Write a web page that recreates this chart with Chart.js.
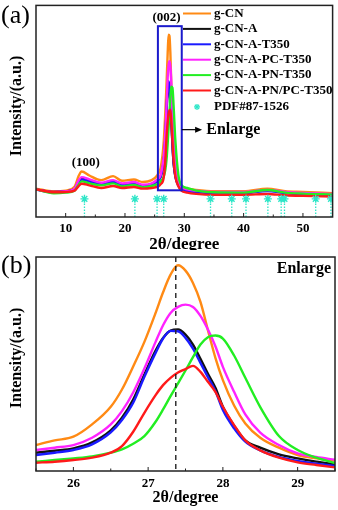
<!DOCTYPE html>
<html>
<head>
<meta charset="utf-8">
<script src="https://cdn.jsdelivr.net/npm/chart.js@4.4.1/dist/chart.umd.min.js"></script>
<style>
  html, body { margin: 0; padding: 0; background: #fff; }
  #wrap { position: relative; width: 338px; height: 510px; }
  canvas { position: absolute; left: 0; }
  #chartA { top: 0; }
  #chartB { top: 250px; }
</style>
</head>
<body>
<div id="wrap">
  <canvas id="chartA" width="338" height="250"></canvas>
  <canvas id="chartB" width="338" height="260"></canvas>
</div>
<script>
const seriesNames = ["g-CN", "g-CN-A", "g-CN-A-T350", "g-CN-A-PC-T350", "g-CN-A-PN-T350", "g-CN-A-PN/PC-T350"];
const seriesColors = ["#ff8a14", "#111111", "#1a1aff", "#ff22ff", "#22ee22", "#ff1a1a"];
const drawOrder = [6, 5, 4, 3, 2, 1];
const SERIF = '"Liberation Serif", "Times New Roman", serif';

// (a) full pattern, 2theta in degrees
const thetaA = [5, 8, 10, 11.5, 12.2, 12.7, 14, 16, 18, 19.5, 21.5, 23, 24.5, 25.5,
  26, 26.5, 26.8, 27.0, 27.2, 27.35, 27.5, 27.65, 27.8, 28.0, 28.2, 28.5, 29, 29.5,
  30.5, 32, 35, 40, 44, 47, 50, 55];
const fullCN     = [86, 78, 80, 92, 125, 138, 126, 112, 124, 110, 114, 106, 112, 128,
  148, 221, 318, 401, 498, 553, 550, 498, 406, 285, 210, 146, 104, 90,
  86, 82, 78, 78, 86, 78, 76, 72];
const fullCNA    = [84, 76, 78, 85, 108, 116, 110, 101, 108, 99, 103, 95, 100, 112,
  122, 165, 238, 317, 385, 404, 392, 351, 299, 221, 163, 124, 99, 84,
  80, 77, 74, 74, 80, 74, 71, 68];
const fullCNAT   = [83, 75, 77, 84, 106, 114, 108, 99, 106, 97, 101, 94, 98, 110,
  122, 165, 237, 322, 394, 412, 395, 351, 300, 219, 165, 121, 95, 83,
  79, 76, 73, 73, 79, 73, 70, 67];
const fullCNAPC  = [84, 76, 78, 86, 112, 121, 114, 104, 112, 102, 106, 98, 102, 115,
  127, 178, 257, 336, 423, 461, 473, 457, 412, 320, 240, 158, 107, 91,
  84, 80, 76, 76, 82, 76, 73, 70];
const fullCNAPN  = [84, 72, 74, 80, 98, 108, 102, 96, 102, 93, 97, 90, 94, 100,
  108, 121, 143, 173, 224, 271, 316, 363, 395, 392, 335, 230, 128, 97,
  88, 80, 75, 74, 82, 74, 71, 68];
const fullCNAPNPC = [84, 75, 76, 80, 94, 101, 96, 88, 94, 88, 91, 86, 88, 92,
  99, 117, 169, 241, 287, 312, 324, 325, 294, 231, 171, 123, 93, 80,
  74, 70, 67, 67, 70, 66, 64, 62];

// PDF#87-1526 reference peaks
const refTheta = [13.17, 21.67, 25.41, 26.53, 34.42, 38.0, 40.4, 44.09, 46.33, 46.89, 52.15, 54.72];
const refLevel = 55;

const ticksA = [10, 20, 30, 40, 50];
const minorA = [15, 25, 35, 45];

// (b) enlarged (002) region
const thetaB = [25.5, 25.75, 26.0, 26.25, 26.5, 26.65, 26.8, 26.95, 27.1, 27.2, 27.3, 27.4,
  27.5, 27.6, 27.7, 27.8, 27.9, 28.0, 28.15, 28.3, 28.5, 28.75, 29.0, 29.25, 29.5];
const zoomCN      = [78, 92, 103, 140, 193, 245, 314, 388, 475, 537, 590, 618, 602, 565, 508, 423, 340, 273, 197, 143, 100, 70, 48, 38, 31];
const zoomCNA     = [55, 61, 68, 86, 122, 160, 215, 290, 362, 400, 422, 425, 410, 380, 337, 292, 250, 193, 136, 92, 70, 50, 38, 28, 20];
const zoomCNAT    = [48, 55, 63, 80, 116, 153, 205, 283, 355, 398, 421, 420, 400, 368, 325, 282, 240, 183, 128, 88, 62, 42, 30, 22, 15];
const zoomCNAPC   = [63, 70, 78, 100, 140, 180, 236, 308, 388, 438, 475, 493, 500, 493, 466, 425, 375, 313, 238, 170, 115, 78, 53, 42, 34];
const zoomCNAPN   = [28, 33, 38, 44, 55, 65, 82, 105, 148, 185, 225, 263, 302, 342, 380, 402, 407, 398, 347, 280, 192, 105, 63, 40, 24];
const zoomCNAPNPC = [25, 28, 33, 40, 55, 75, 118, 175, 228, 258, 280, 296, 306, 316, 298, 268, 238, 193, 138, 92, 62, 40, 26, 18, 11];

const ticksB = [26, 27, 28, 29];
const minorB = [25.5, 26.5, 27.5, 28.5, 29.5];
const peakLine = 27.37;

// enlarge box in (a)
const boxTheta = [25.55, 29.57];
const boxI = [81, 579];

function lineSets(xs, ys) {
  return ys.map((vals, i) => ({
    label: seriesNames[i],
    data: xs.map((t, k) => ({ x: t, y: vals[k] })),
    borderColor: seriesColors[i],
    borderWidth: 2.4,
    pointRadius: 0,
    tension: 0.35,
    cubicInterpolationMode: "monotone",
    order: drawOrder[i],
  }));
}

function xAxis(min, max, ticks, h, pad) {
  return {
    type: "linear",
    min: min,
    max: max,
    grid: { display: false, drawTicks: false },
    border: { display: false },
    ticks: {
      color: "#000",
      padding: pad,
      maxRotation: 0,
      font: { family: SERIF, size: 13, weight: "bold" },
    },
    afterBuildTicks: (s) => { s.ticks = ticks.map((v) => ({ value: v })); },
    afterFit: (s) => { s.height = h; },
  };
}

function frame(ctx, a, x, major, minor) {
  ctx.strokeStyle = "#222";
  ctx.lineWidth = 1.5;
  ctx.strokeRect(a.left, a.top, a.width, a.height);
  ctx.lineWidth = 1;
  major.forEach((v) => {
    const px = x.getPixelForValue(v);
    ctx.beginPath(); ctx.moveTo(px, a.bottom); ctx.lineTo(px, a.bottom - 4); ctx.stroke();
  });
  minor.forEach((v) => {
    const px = x.getPixelForValue(v);
    ctx.beginPath(); ctx.moveTo(px, a.bottom); ctx.lineTo(px, a.bottom - 2.5); ctx.stroke();
  });
}

function yTitle(ctx, cx, cy) {
  ctx.save();
  ctx.translate(cx, cy);
  ctx.rotate(-Math.PI / 2);
  ctx.font = "bold 16px " + SERIF;
  ctx.textAlign = "center";
  ctx.textBaseline = "middle";
  ctx.fillStyle = "#000";
  ctx.fillText("Intensity/(a.u.)", 0, 0);
  ctx.restore();
}

const decorA = {
  id: "decorA",
  beforeDatasetsDraw(chart) {
    const { ctx, scales: { x, y } } = chart;
    ctx.save();
    ctx.strokeStyle = "#2ee6c8";
    ctx.lineWidth = 1.3;
    ctx.setLineDash([1.5, 1.5]);
    refTheta.forEach((t) => {
      const px = x.getPixelForValue(t);
      ctx.beginPath();
      ctx.moveTo(px, y.getPixelForValue(0));
      ctx.lineTo(px, y.getPixelForValue(refLevel));
      ctx.stroke();
    });
    ctx.restore();
  },
  afterDraw(chart) {
    const { ctx, chartArea: a, scales: { x, y } } = chart;
    ctx.save();
    frame(ctx, a, x, ticksA, minorA);

    // enlarge box + arrow
    const bx0 = x.getPixelForValue(boxTheta[0]), bx1 = x.getPixelForValue(boxTheta[1]);
    const by0 = y.getPixelForValue(boxI[1]), by1 = y.getPixelForValue(boxI[0]);
    ctx.strokeStyle = "#1a1acc";
    ctx.lineWidth = 2;
    ctx.strokeRect(bx0, by0, bx1 - bx0, by1 - by0);
    const ay = y.getPixelForValue(265), ax1 = x.getPixelForValue(33.0);
    ctx.strokeStyle = "#000";
    ctx.lineWidth = 1.2;
    ctx.beginPath(); ctx.moveTo(bx1, ay); ctx.lineTo(ax1 - 5, ay); ctx.stroke();
    ctx.fillStyle = "#000";
    ctx.beginPath(); ctx.moveTo(ax1, ay); ctx.lineTo(ax1 - 7, ay - 3); ctx.lineTo(ax1 - 7, ay + 3); ctx.closePath(); ctx.fill();

    ctx.textBaseline = "middle";
    ctx.font = "bold 16px " + SERIF;
    ctx.textAlign = "left";
    ctx.fillText("Enlarge", x.getPixelForValue(33.7), ay);
    ctx.font = "bold 13px " + SERIF;
    ctx.textAlign = "center";
    ctx.fillText("(002)", x.getPixelForValue(27.0), y.getPixelForValue(605));
    ctx.fillText("(100)", x.getPixelForValue(13.4), y.getPixelForValue(165));

    // legend
    const lx0 = 183, lx1 = 211, tx = 214, ly0 = 13.5, step = 15.4;
    ctx.textAlign = "left";
    seriesNames.forEach((n, i) => {
      const ly = ly0 + i * step;
      ctx.strokeStyle = seriesColors[i];
      ctx.lineWidth = 2;
      ctx.beginPath(); ctx.moveTo(lx0, ly); ctx.lineTo(lx1, ly); ctx.stroke();
      ctx.fillStyle = "#000";
      ctx.fillText(n, tx, ly);
    });
    const sy = ly0 + 6 * step + 1;
    ctx.strokeStyle = "#2ee6c8";
    ctx.lineWidth = 1.3;
    for (let k = 0; k < 4; k++) {
      const ang = (k * Math.PI) / 4;
      ctx.beginPath();
      ctx.moveTo(197 - 3 * Math.cos(ang), sy - 3 * Math.sin(ang));
      ctx.lineTo(197 + 3 * Math.cos(ang), sy + 3 * Math.sin(ang));
      ctx.stroke();
    }
    ctx.fillStyle = "#000";
    ctx.fillText("PDF#87-1526", tx, sy);

    // titles
    ctx.font = "bold 17px " + SERIF;
    ctx.textAlign = "center";
    ctx.fillText("2θ/degree", (a.left + a.right) / 2, 245);
    yTitle(ctx, 17, 106);
    ctx.font = "26px " + SERIF;
    ctx.textAlign = "left";
    ctx.fillText("(a)", 1, 16);
    ctx.restore();
  },
};

const decorB = {
  id: "decorB",
  afterDraw(chart) {
    const { ctx, chartArea: a, scales: { x } } = chart;
    ctx.save();
    frame(ctx, a, x, ticksB, minorB);
    const px = x.getPixelForValue(peakLine);
    ctx.strokeStyle = "#222";
    ctx.lineWidth = 1.4;
    ctx.setLineDash([5, 4]);
    ctx.beginPath(); ctx.moveTo(px, a.top); ctx.lineTo(px, a.bottom); ctx.stroke();
    ctx.setLineDash([]);

    ctx.fillStyle = "#000";
    ctx.textBaseline = "middle";
    ctx.font = "bold 16px " + SERIF;
    ctx.textAlign = "right";
    ctx.fillText("Enlarge", a.right - 4, 19);
    ctx.font = "bold 16px " + SERIF;
    ctx.textAlign = "center";
    ctx.fillText("2θ/degree", (a.left + a.right) / 2, 248);
    yTitle(ctx, 17, 108);
    ctx.font = "26px " + SERIF;
    ctx.textAlign = "left";
    ctx.fillText("(b)", 1, 16);
    ctx.restore();
  },
};

const common = {
  responsive: false,
  animation: false,
  devicePixelRatio: 1,
  events: [],
  plugins: { legend: { display: false }, tooltip: { enabled: false } },
};

new Chart(document.getElementById("chartA"), {
  type: "line",
  plugins: [decorA],
  data: {
    datasets: lineSets(thetaA, [fullCN, fullCNA, fullCNAT, fullCNAPC, fullCNAPN, fullCNAPNPC]).concat([{
      type: "scatter",
      label: "PDF#87-1526",
      data: refTheta.map((t) => ({ x: t, y: refLevel })),
      pointStyle: "star",
      pointRadius: 4,
      borderColor: "#2ee6c8",
      backgroundColor: "#2ee6c8",
      borderWidth: 1.4,
      order: 0,
    }]),
  },
  options: {
    ...common,
    layout: { padding: { left: 36, right: 4, top: 3, bottom: 0 } },
    scales: {
      x: xAxis(5, 55, ticksA, 33, 4),
      y: { display: false, min: 0, max: 642 },
    },
  },
});

new Chart(document.getElementById("chartB"), {
  type: "line",
  plugins: [decorB],
  data: {
    datasets: lineSets(thetaB, [zoomCN, zoomCNA, zoomCNAT, zoomCNAPC, zoomCNAPN, zoomCNAPNPC]),
  },
  options: {
    ...common,
    layout: { padding: { left: 36, right: 3, top: 7, bottom: 0 } },
    scales: {
      x: xAxis(25.5, 29.5, ticksB, 39, 5),
      y: { display: false, min: 0, max: 643 },
    },
  },
});
</script>
</body>
</html>
